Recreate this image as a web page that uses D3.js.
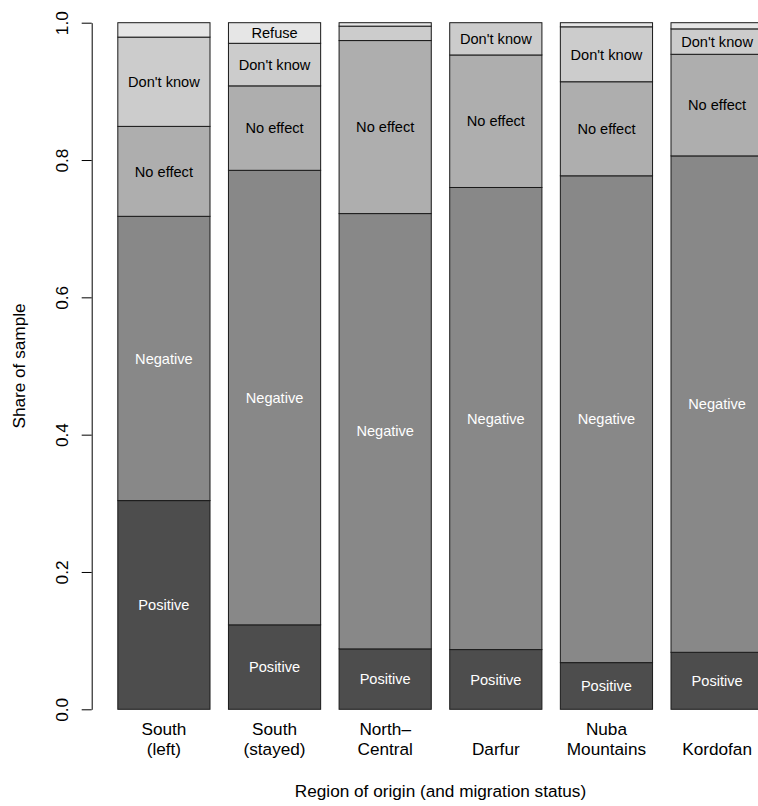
<!DOCTYPE html>
<html>
<head>
<meta charset="utf-8">
<script src="https://cdn.jsdelivr.net/npm/d3@7"></script>
<style>
  html, body { margin: 0; padding: 0; background: #fff; }
  svg { display: block; }
  text { font-family: "Liberation Sans", Arial, Helvetica, sans-serif; }
</style>
</head>
<body>
<script>
// Regions of origin (each entry is a list of label lines)
const regions = [
  ["South", "(left)"],
  ["South", "(stayed)"],
  ["North\u2013", "Central"],
  ["Darfur"],
  ["Nuba", "Mountains"],
  ["Kordofan"]
];

// Response categories, stacked from the bottom up
const categories = ["Positive", "Negative", "No effect", "Don't know", "Refuse"];

// Shares of sample per region, one array per response
const positive = [0.304, 0.123, 0.088, 0.087, 0.068, 0.083];
const negative = [0.414, 0.662, 0.634, 0.673, 0.709, 0.723];
const noEffect = [0.131, 0.123, 0.252, 0.193, 0.137, 0.148];
const dontKnow = [0.130, 0.062, 0.021, 0.047, 0.080, 0.037];
const refuse   = [0.021, 0.030, 0.005, 0.000, 0.006, 0.009];

const yTicks = [0, 0.2, 0.4, 0.6, 0.8, 1.0];
const yTickLabels = ["0.0", "0.2", "0.4", "0.6", "0.8", "1.0"];

const xTitle = "Region of origin (and migration status)";
const yTitle = "Share of sample";

// Fill shades, dark to light
const fills = ["#4d4d4d", "#888888", "#aeaeae", "#cccccc", "#e6e6e6"];
const labelColors = ["#ffffff", "#ffffff", "#000000", "#000000", "#000000"];

const axisFont = "17.2px";
const barFont = "14.6px";

const seriesValues = [positive, negative, noEffect, dontKnow, refuse];
const rows = regions.map((r, i) => {
  const row = { idx: i };
  categories.forEach((c, k) => { row[c] = seriesValues[k][i]; });
  return row;
});

const W = 758, H = 806;
const svg = d3.select("body").append("svg").attr("width", W).attr("height", H);

// Bar layout in user units: width 1, gap 0.2
const barWidth = 1, gap = 0.2;
const left = i => gap + i * (barWidth + gap);
const xMax = regions.length * (barWidth + gap);
const pad = 0.04 * (xMax - gap);
const x = d3.scaleLinear().domain([gap - pad, xMax + pad]).range([92, 789]);
const y = d3.scaleLinear().domain([0, 1]).range([709.3, 22.7]);

const stack = d3.stack().keys(categories);
const layers = stack(rows);

const g = svg.append("g");
layers.forEach((layer, k) => {
  g.append("g")
    .selectAll("rect")
    .data(layer.filter(d => d[1] - d[0] > 0))
    .join("rect")
    .attr("x", d => x(left(d.data.idx)))
    .attr("width", x(barWidth) - x(0))
    .attr("y", d => y(d[1]))
    .attr("height", d => y(d[0]) - y(d[1]))
    .attr("fill", fills[k])
    .attr("stroke", "#1a1a1a")
    .attr("stroke-width", 1);
});

// Segment labels for segments large enough to hold text
const minShare = 0.025;
layers.forEach((layer, k) => {
  g.append("g")
    .selectAll("text")
    .data(layer.filter(d => d[1] - d[0] >= minShare))
    .join("text")
    .attr("x", d => x(left(d.data.idx) + barWidth / 2))
    .attr("y", d => y((d[0] + d[1]) / 2))
    .attr("dy", "0.36em")
    .attr("text-anchor", "middle")
    .attr("font-size", barFont)
    .attr("fill", labelColors[k])
    .text(categories[k]);
});

// Y axis
const yAxis = d3.axisLeft(y)
  .tickValues(yTicks)
  .tickFormat((d, i) => yTickLabels[i])
  .tickSize(10)
  .tickSizeOuter(0);
const ya = svg.append("g").attr("transform", "translate(91.7,0)").call(yAxis);
ya.select(".domain").attr("stroke", "#000").attr("stroke-width", 1);
ya.selectAll(".tick line").attr("stroke", "#000").attr("stroke-width", 1);
ya.selectAll(".tick text")
  .attr("font-family", "\"Liberation Sans\", Arial, Helvetica, sans-serif")
  .attr("font-size", axisFont)
  .attr("fill", "#000")
  .attr("x", null).attr("dy", null)
  .attr("text-anchor", "middle")
  .attr("transform", "translate(-23.4,0) rotate(-90)");

// X category labels, bottom-aligned lines under each bar
const xl = svg.append("g");
regions.forEach((lines, i) => {
  const cx = x(left(i) + barWidth / 2);
  const t = xl.append("text")
    .attr("text-anchor", "middle")
    .attr("font-size", axisFont)
    .attr("fill", "#000");
  lines.forEach((ln, j) => {
    const fromBottom = lines.length - 1 - j;
    t.append("tspan").attr("x", cx).attr("y", 754.5 - fromBottom * 19.7).text(ln);
  });
});

// Axis titles
svg.append("text")
  .attr("x", (x.range()[0] + x.range()[1]) / 2)
  .attr("y", 796.5)
  .attr("text-anchor", "middle")
  .attr("font-size", axisFont)
  .attr("fill", "#000")
  .text(xTitle);

svg.append("text")
  .attr("transform", `translate(24.5,${(y(0) + y(1)) / 2}) rotate(-90)`)
  .attr("text-anchor", "middle")
  .attr("font-size", axisFont)
  .attr("fill", "#000")
  .text(yTitle);
</script>
</body>
</html>
